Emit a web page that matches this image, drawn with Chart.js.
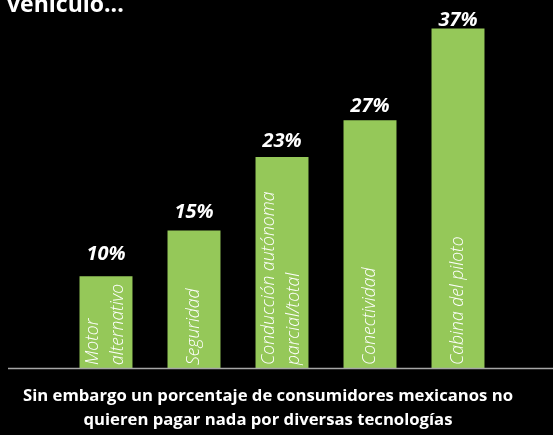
<!DOCTYPE html>
<html>
<head>
<meta charset="utf-8">
<script src="https://cdn.jsdelivr.net/npm/chart.js@4"></script>
<style>
  html, body { margin: 0; padding: 0; background: #000; }
  #wrap { position: relative; width: 553px; height: 435px; }
</style>
</head>
<body>
<div id="wrap"><canvas id="myChart" width="553" height="435"></canvas></div>
<script>
var categories = [
  ["Motor", "alternativo"],
  ["Seguridad"],
  ["Conducción autónoma", "parcial/total"],
  ["Conectividad"],
  ["Cabina del piloto"],
];
var values = [10, 15, 23, 27, 37];
var valueLabels = ["10%", "15%", "23%", "27%", "37%"];
var titleText = "vehículo...";
var captionLines = [
  "Sin embargo un porcentaje de consumidores mexicanos no",
  "quieren pagar nada por diversas tecnologías",
];

// distance from bar top to value label baseline
var labelGap = [16, 12, 10, 8, 3];
var green = "#95c859";

const textPlugin = {
  id: "textPlugin",
  afterDatasetsDraw(chart) {
    const c = chart.ctx;
    const meta = chart.getDatasetMeta(0);
    const base = chart.scales.y.getPixelForValue(0);
    c.save();

    // axis line
    c.strokeStyle = "#a6a6a6";
    c.lineWidth = 1.5;
    c.beginPath();
    c.moveTo(8, base + 0.5);
    c.lineTo(553, base + 0.5);
    c.stroke();

    c.fillStyle = "#fff";
    meta.data.forEach((bar, i) => {
      // value label
      c.font = "italic bold 20px 'Open Sans'";
      c.textAlign = "center";
      c.textBaseline = "alphabetic";
      c.fillText(valueLabels[i], bar.x, bar.y - labelGap[i]);

      // category label, rotated inside the bar
      const lines = categories[i];
      c.save();
      c.translate(bar.x, base - 3);
      c.rotate(-Math.PI / 2);
      c.font = "italic 300 17.5px 'Open Sans'";
      c.textAlign = "left";
      c.textBaseline = "middle";
      const lh = 25;
      lines.forEach((t, j) => {
        const off = (j - (lines.length - 1) / 2) * lh;
        c.fillText(t, 0, off);
      });
      c.restore();
    });

    // cut title at top
    c.font = "bold 23px 'Open Sans'";
    c.textAlign = "left";
    c.textBaseline = "alphabetic";
    c.fillText(titleText, 7, 12);

    // caption
    c.font = "bold 16.7px 'Open Sans'";
    c.textAlign = "center";
    c.fillText(captionLines[0], 268, 401);
    c.fillText(captionLines[1], 268, 425);
    c.restore();
  },
};

const ctx = document.getElementById("myChart");
new Chart(ctx, {
  type: "bar",
  data: {
    labels: categories,
    datasets: [
      {
        data: values,
        backgroundColor: green,
        borderWidth: 0,
        categoryPercentage: 1,
        barPercentage: 0.602,
      },
    ],
  },
  options: {
    responsive: false,
    animation: false,
    layout: {
      padding: { left: 62, right: 51, top: 1, bottom: 67 },
    },
    plugins: {
      legend: { display: false },
      tooltip: { enabled: false },
    },
    scales: {
      x: { display: false },
      y: { display: false, min: 0, max: 40 },
    },
  },
  plugins: [textPlugin],
});
</script>
</body>
</html>
